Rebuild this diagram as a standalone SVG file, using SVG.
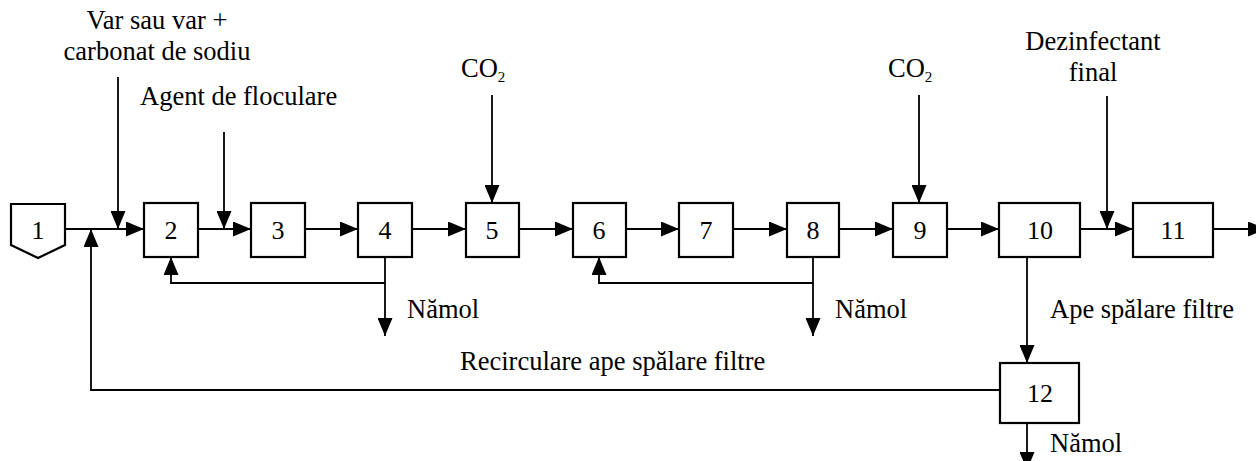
<svg xmlns="http://www.w3.org/2000/svg" width="1256" height="461" viewBox="0 0 1256 461">
<style>
text{font-family:"Liberation Serif","Times New Roman",serif;fill:#000;font-size:26.5px}
.num{text-anchor:middle;font-size:26px}
.box{fill:#fff;stroke:#000;stroke-width:2.2}
.ln{fill:none;stroke:#000;stroke-width:1.8}
</style>
<defs>
<marker id="ah" viewBox="0 0 18 15" refX="18" refY="7.5" markerWidth="18" markerHeight="15" markerUnits="userSpaceOnUse" orient="auto">
<path d="M0,0 L18,7.5 L0,15 Z" fill="#000"/>
</marker>
</defs>
<g id="connectors">
<path class="ln" d="M65,229 H144" marker-end="url(#ah)"/>
<path class="ln" d="M118,77 V229" marker-end="url(#ah)"/>
<path class="ln" d="M1000,390 H91 V229" marker-end="url(#ah)"/>
<path class="ln" d="M198,229 H251" marker-end="url(#ah)"/>
<path class="ln" d="M224,132 V229" marker-end="url(#ah)"/>
<path class="ln" d="M305,229 H358" marker-end="url(#ah)"/>
<path class="ln" d="M385,257 V336" marker-end="url(#ah)"/>
<path class="ln" d="M385,283 H171 V257" marker-end="url(#ah)"/>
<path class="ln" d="M412,229 H466" marker-end="url(#ah)"/>
<path class="ln" d="M492,95 V203" marker-end="url(#ah)"/>
<path class="ln" d="M519,229 H573" marker-end="url(#ah)"/>
<path class="ln" d="M626,229 H679" marker-end="url(#ah)"/>
<path class="ln" d="M733,229 H787" marker-end="url(#ah)"/>
<path class="ln" d="M813,257 V336" marker-end="url(#ah)"/>
<path class="ln" d="M813,283 H599 V257" marker-end="url(#ah)"/>
<path class="ln" d="M839,229 H893" marker-end="url(#ah)"/>
<path class="ln" d="M919,95 V203" marker-end="url(#ah)"/>
<path class="ln" d="M947,229 H999" marker-end="url(#ah)"/>
<path class="ln" d="M1080,229 H1133" marker-end="url(#ah)"/>
<path class="ln" d="M1107,96 V229" marker-end="url(#ah)"/>
<path class="ln" d="M1213,229 H1266" marker-end="url(#ah)"/>
<path class="ln" d="M1027,257 V363" marker-end="url(#ah)"/>
<path class="ln" d="M1027,423 V470" marker-end="url(#ah)"/>
</g>
<g id="node1"><path class="box" d="M11,204 H65 V245 L38,258 L11,245 Z"/><text class="num" x="38" y="239">1</text></g>
<g id="node2"><rect class="box" x="144" y="203" width="54" height="54"/><text class="num" x="171" y="239">2</text></g>
<g id="node3"><rect class="box" x="251" y="203" width="54" height="54"/><text class="num" x="278" y="239">3</text></g>
<g id="node4"><rect class="box" x="358" y="203" width="54" height="54"/><text class="num" x="385" y="239">4</text></g>
<g id="node5"><rect class="box" x="466" y="203" width="53" height="54"/><text class="num" x="492" y="239">5</text></g>
<g id="node6"><rect class="box" x="573" y="203" width="53" height="54"/><text class="num" x="599" y="239">6</text></g>
<g id="node7"><rect class="box" x="679" y="203" width="54" height="54"/><text class="num" x="706" y="239">7</text></g>
<g id="node8"><rect class="box" x="787" y="203" width="52" height="54"/><text class="num" x="813" y="239">8</text></g>
<g id="node9"><rect class="box" x="893" y="203" width="54" height="54"/><text class="num" x="920" y="239">9</text></g>
<g id="node10"><rect class="box" x="999" y="203" width="81" height="54"/><text class="num" x="1040" y="239">10</text></g>
<g id="node11"><rect class="box" x="1133" y="203" width="80" height="54"/><text class="num" x="1173" y="239">11</text></g>
<g id="node12"><rect class="box" x="1000" y="363" width="79" height="60"/><text class="num" x="1040" y="402">12</text></g>
<g id="labels">
<text x="157" y="29" text-anchor="middle">Var sau var +</text>
<text x="157" y="60" text-anchor="middle">carbonat de sodiu</text>
<text x="140" y="105">Agent de floculare</text>
<text x="461" y="77" font-size="24">CO<tspan font-size="15" dy="5">2</tspan></text>
<text x="888" y="77" font-size="24">CO<tspan font-size="15" dy="5">2</tspan></text>
<text x="1093" y="50" text-anchor="middle">Dezinfectant</text>
<text x="1093" y="81" text-anchor="middle">final</text>
<text x="407" y="318">Nămol</text>
<text x="835" y="318">Nămol</text>
<text x="1050" y="318">Ape spălare filtre</text>
<text x="460" y="370">Recirculare ape spălare filtre</text>
<text x="1050" y="452">Nămol</text>
</g>
</svg>
